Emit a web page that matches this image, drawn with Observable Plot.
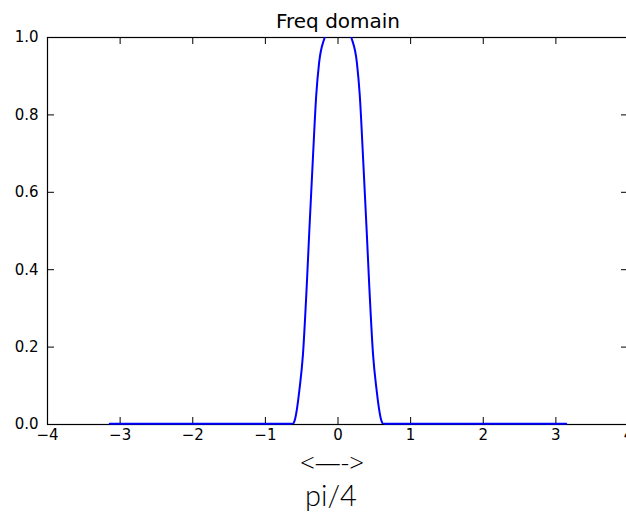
<!DOCTYPE html>
<html>
<head>
<meta charset="utf-8">
<script src="https://cdn.jsdelivr.net/npm/d3@7"></script>
<script src="https://cdn.jsdelivr.net/npm/@observablehq/plot@0.6"></script>
<style>
  html, body { margin: 0; padding: 0; background: #fff; overflow: hidden; }
  #chart { width: 626px; height: 513px; overflow: hidden; }
  #chart svg { max-width: none !important; }
</style>
</head>
<body>
<div id="chart"></div>
<script>
// ---- data ----
const titleText = "Freq domain";
const freqX = [-3.1416, -0.64, -0.614, -0.59, -0.563, -0.531, -0.483, -0.43, -0.395, -0.345, -0.30, -0.26, -0.184, -0.12, -0.06, 0,
               0.06, 0.12, 0.184, 0.26, 0.30, 0.345, 0.395, 0.43, 0.483, 0.531, 0.563, 0.59, 0.614, 0.64, 3.1416];
const freqY = [0, 0, 0.003, 0.015, 0.043, 0.09, 0.18, 0.36, 0.5, 0.69, 0.85, 0.935, 1.0, 1.035, 1.05, 1.055,
               1.05, 1.035, 1.0, 0.935, 0.85, 0.69, 0.5, 0.36, 0.18, 0.09, 0.043, 0.015, 0.003, 0, 0];
const xTicks = [-4, -3, -2, -1, 0, 1, 2, 3, 4];
const yTicks = [0, 0.2, 0.4, 0.6, 0.8, 1.0];
const annotations = ["<\u2014->", "pi/4"];

const data = freqX.map((x, i) => ({x, y: freqY[i]}));

const W = 640, H = 513, mL = 47, mR = 12, mT = 37, mB = 89;
const fw = W - mL - mR, fh = H - mT - mB, tl = 7;

const chart = Plot.plot({
  width: W, height: H,
  marginLeft: mL, marginRight: mR, marginTop: mT, marginBottom: mB,
  style: {fontFamily: "DejaVu Sans, sans-serif", fontSize: "15px", color: "#000", background: "#fff", maxWidth: "none"},
  x: {domain: [-4, 4], label: null},
  y: {domain: [0, 1], label: null},
  marks: [
    // inward ticks on all four sides
    Plot.ruleX(xTicks, {x: d => d, insetBottom: fh - tl, stroke: "#000"}),
    Plot.ruleX(xTicks, {x: d => d, insetTop: fh - tl, stroke: "#000"}),
    Plot.ruleY(yTicks, {y: d => d, insetRight: fw - tl, stroke: "#000"}),
    Plot.ruleY(yTicks, {y: d => d, insetLeft: fw - tl, stroke: "#000"}),
    Plot.frame({stroke: "#000", strokeWidth: 1.2}),
    // zero-valued tails lying on the bottom spine (kept visible, as in the reference)
    Plot.line(data, {filter: d => d.y === 0, z: d => d.x < 0, x: "x", y: "y", stroke: "#0000ff", strokeWidth: 2, dy: -0.7}),
    Plot.line(data, {x: "x", y: "y", stroke: "#0000ff", strokeWidth: 2, curve: "monotone-x", clip: true}),
    Plot.axisX(xTicks, {anchor: "bottom", tickSize: 0, tickPadding: 5, fontSize: 15, label: null,
      tickFormat: d => d < 0 ? "\u2212" + Math.abs(d) : String(d)}),
    Plot.axisY(yTicks, {anchor: "left", tickSize: 0, tickPadding: 9, fontSize: 15, label: null,
      tickFormat: d3.format(".1f")}),
    Plot.text([titleText], {frameAnchor: "top", lineAnchor: "bottom", dy: -10, fontSize: 20, fill: "#000"}),
    Plot.text([annotations[0]], {frameAnchor: "bottom", lineAnchor: "middle", dx: -6, dy: 39,
      fontSize: 26, fontFamily: "Open Sans, sans-serif", fontWeight: 300, letterSpacing: "5px", fill: "#000"}),
    Plot.text([annotations[1]], {frameAnchor: "bottom", lineAnchor: "middle", dx: -7, dy: 72,
      fontSize: 29, fontFamily: "Lato, Open Sans, sans-serif", fontWeight: 300, fill: "#000"})
  ]
});
document.getElementById("chart").appendChild(chart);
</script>
</body>
</html>
